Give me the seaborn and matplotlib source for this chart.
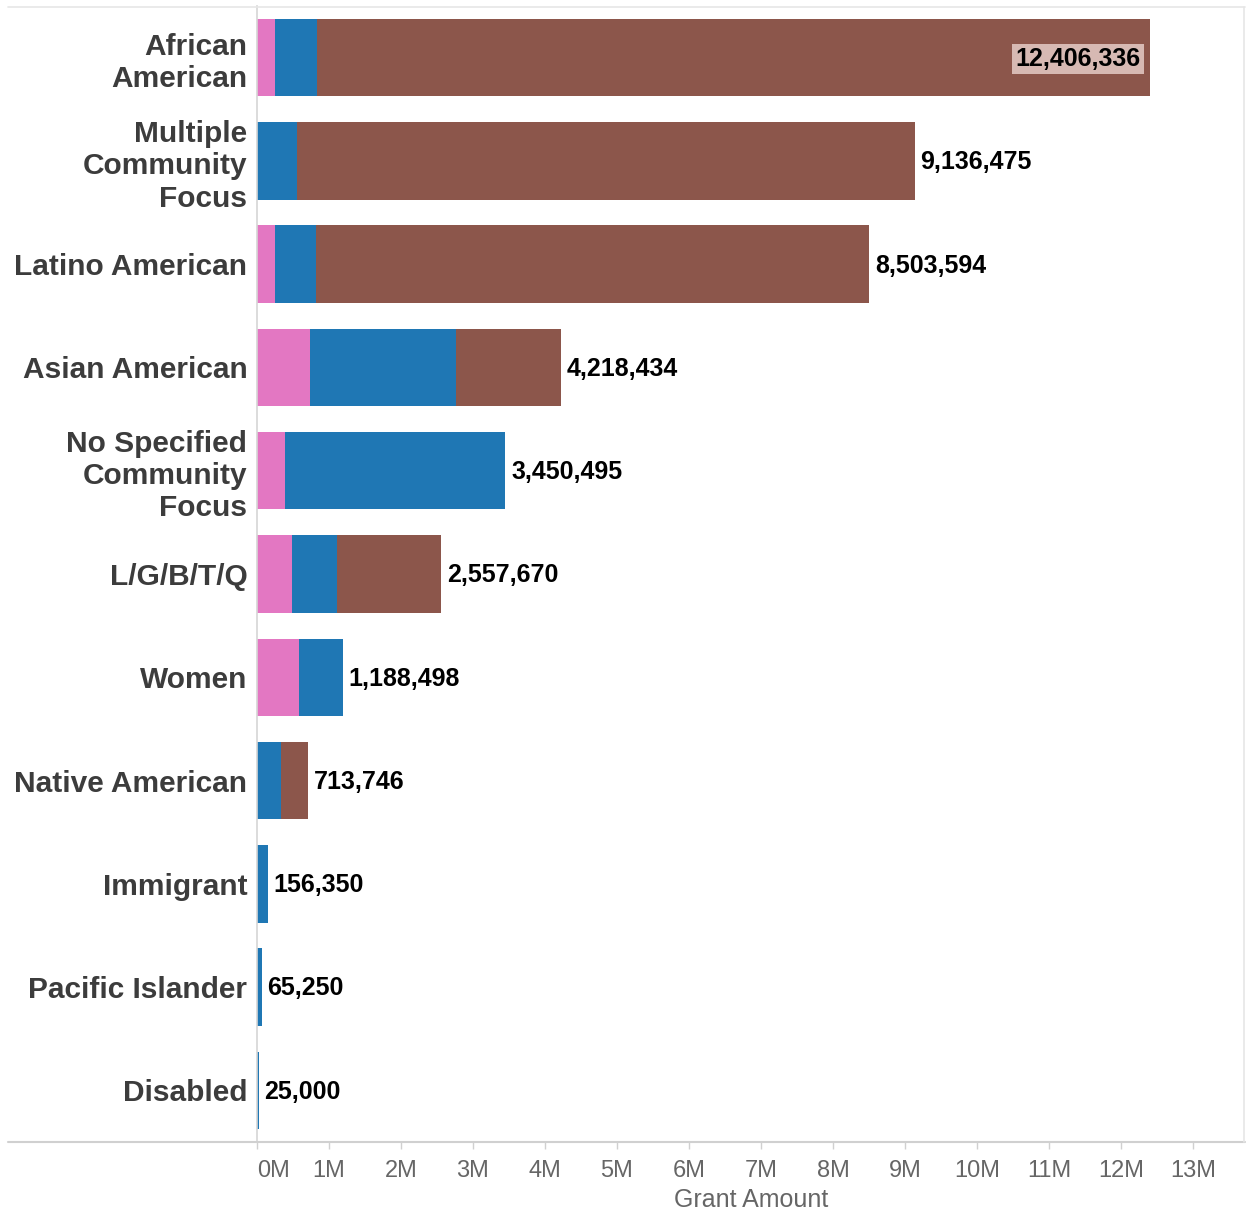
import matplotlib
matplotlib.use("Agg")
import matplotlib.pyplot as plt
import seaborn as sns
import pandas as pd
import numpy as np
from matplotlib.lines import Line2D
from matplotlib.ticker import FuncFormatter, MultipleLocator

sns.set_theme(style="white")
plt.rcParams['font.family'] = ['Liberation Sans', 'DejaVu Sans']

categories = ["African\nAmerican", "Multiple\nCommunity\nFocus", "Latino American",
              "Asian American", "No Specified\nCommunity\nFocus", "L/G/B/T/Q",
              "Women", "Native American", "Immigrant", "Pacific Islander", "Disabled"]
totals = [12406336, 9136475, 8503594, 4218434, 3450495, 2557670,
          1188498, 713746, 156350, 65250, 25000]
pink_vals = [246000, 0, 250000, 736000, 390000, 490000, 580000, 0, 0, 0, 0]
blue_vals = [587000, 555000, 570000, 2030000, 3060495, 620000, 608498, 340000, 156350, 65250, 25000]
brown_vals = [11573336, 8581475, 7683594, 1452434, 0, 1447670, 0, 373746, 0, 0, 0]

PINK, BLUE, BROWN = "#e377c2", "#1f77b4", "#8c564b"

df = pd.DataFrame({"cat": categories, "pink": pink_vals, "blue": blue_vals,
                   "brown": brown_vals, "total": totals})
df["pb"] = df["pink"] + df["blue"]
df["pbb"] = df["pb"] + df["brown"]

fig = plt.figure(figsize=(12.46, 12.13), dpi=100)
ax = fig.add_axes([257/1246, (1213-1142)/1213, 988/1246, 1136/1213])

for col, c in [("pbb", BROWN), ("pb", BLUE), ("pink", PINK)]:
    sns.barplot(data=df, x=col, y="cat", order=categories, orient="h", color=c,
                saturation=1, width=0.75, linewidth=0, ax=ax)

ax.set_xlim(0, 988/72*1e6)
ax.set_ylim(10.5, -0.5)

# value labels
for i, t in enumerate(df["total"]):
    lab = f"{t:,}"
    if i == 0:
        ax.annotate(lab, xy=(t, i), xytext=(-7, -1), textcoords="offset points",
                    ha="right", va="center", fontsize=18, fontweight="bold", color="black",
                    bbox=dict(boxstyle="square,pad=0.12", fc="#d7b9b3", ec="none"))
    else:
        ax.annotate(lab, xy=(t, i), xytext=(4, -1), textcoords="offset points",
                    ha="left", va="center", fontsize=18, fontweight="bold", color="black")

ax.set_ylabel("")
ax.set_xlabel("Grant Amount", fontsize=18, color="#666666", labelpad=4)
ax.xaxis.set_major_locator(MultipleLocator(1e6))
ax.xaxis.set_major_formatter(FuncFormatter(lambda v, p: f"{int(round(v/1e6))}M"))
ax.tick_params(axis="x", labelsize=17, labelcolor="#666666", length=5, color="#d0d0d0",
               width=1, pad=8, bottom=True)
ax.tick_params(axis="y", labelsize=21.5, length=0, pad=7)
for lbl in ax.get_yticklabels():
    lbl.set_fontweight("bold")
    lbl.set_color("#3c3c3c")
    lbl.set_linespacing(1.2)
fig.canvas.draw()
xl = ax.get_xticklabels()
for lbl in xl:
    if lbl.get_text() == "0M":
        lbl.set_horizontalalignment("left")

for s in ["top", "right", "bottom"]:
    ax.spines[s].set_visible(False)
ax.spines["left"].set_color("#d6d6d6")
ax.spines["left"].set_linewidth(1.2)

# outer frame lines (figure coordinates)
def fx(px):
    return px / 1246
def fy(py):
    return 1 - py / 1213
fig.add_artist(Line2D([fx(8), fx(1245)], [fy(1142), fy(1142)], color="#d0d0d0", lw=1.5))
fig.add_artist(Line2D([fx(8), fx(1245)], [fy(7), fy(7)], color="#e6e6e6", lw=1.2))
fig.add_artist(Line2D([fx(1244), fx(1244)], [fy(7), fy(1142)], color="#e6e6e6", lw=1.2))

fig.savefig("out.png", dpi=100, facecolor="white")
